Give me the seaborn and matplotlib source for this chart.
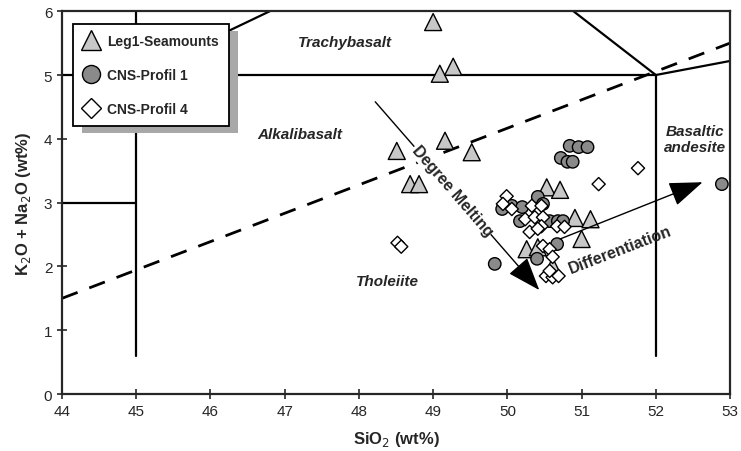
import numpy as np
import pandas as pd
import matplotlib
matplotlib.use('Agg')
import matplotlib.pyplot as plt
from matplotlib.patches import Rectangle
import seaborn as sns

# Leg1-Seamounts (ucgenler)
seamount_sio2 = [49.00, 49.09, 49.27, 48.51, 49.16, 49.52, 48.69, 48.81,
                 50.53, 50.71, 50.91, 51.12, 51.00, 50.26, 50.41, 50.61]
seamount_alk = [5.83, 5.02, 5.13, 3.81, 3.97, 3.79, 3.29, 3.29,
                3.24, 3.20, 2.76, 2.74, 2.43, 2.27, 2.30, 2.00]

# CNS-Profil 1 (gri daireler)
profil1_sio2 = [50.84, 50.96, 51.08, 50.72, 50.81, 50.88, 52.89, 49.83,
                49.93, 50.06, 50.20, 50.41, 50.48, 50.17, 50.57, 50.68,
                50.75, 50.67, 50.40]
profil1_alk = [3.89, 3.87, 3.87, 3.70, 3.64, 3.64, 3.29, 2.04,
               2.90, 2.95, 2.93, 3.09, 2.98, 2.71, 2.71, 2.71,
               2.71, 2.35, 2.12]

# CNS-Profil 4 (beyaz karolar)
profil4_sio2 = [48.52, 48.57, 51.76, 51.23, 49.99, 49.94, 50.06, 50.33,
                50.46, 50.24, 50.37, 50.48, 50.67, 50.77, 50.46, 50.30,
                50.41, 50.48, 50.57, 50.61, 50.52, 50.61, 50.69, 50.57]
profil4_alk = [2.37, 2.31, 3.54, 3.29, 3.10, 2.98, 2.90, 2.95,
               2.95, 2.74, 2.77, 2.77, 2.63, 2.62, 2.63, 2.54,
               2.59, 2.32, 2.27, 2.15, 1.85, 1.83, 1.85, 1.93]

gruplar = ['Leg1-Seamounts', 'CNS-Profil 1', 'CNS-Profil 4']

df = pd.concat([
    pd.DataFrame({'SiO2': seamount_sio2, 'alk': seamount_alk, 'grup': gruplar[0]}),
    pd.DataFrame({'SiO2': profil1_sio2, 'alk': profil1_alk, 'grup': gruplar[1]}),
    pd.DataFrame({'SiO2': profil4_sio2, 'alk': profil4_alk, 'grup': gruplar[2]}),
], ignore_index=True)

sns.set_style('ticks')
plt.rcParams['font.family'] = ['Liberation Sans', 'DejaVu Sans']

fig = plt.figure(figsize=(7.41, 4.52), dpi=100)
ax = fig.add_axes([0.0837, 0.126, 0.9015, 0.847])

# siniflandirma cizgileri
k = dict(color='black', lw=1.6, zorder=1)
ax.plot([45, 45], [0.6, 6], **k)
ax.plot([44, 45], [3, 3], **k)
ax.plot([44, 52], [5, 5], **k)
ax.plot([45, 46.80], [5, 6], **k)
ax.plot([50.89, 52], [6, 5], **k)
ax.plot([52, 53], [5, 5.22], **k)
ax.plot([52, 52], [0.6, 5], **k)
ax.plot([44, 53], [1.5, 5.5], color='black', lw=2.0, ls=(0, (6, 4.5)), zorder=1)

sns.scatterplot(data=df, x='SiO2', y='alk', hue='grup', style='grup',
                hue_order=gruplar, style_order=gruplar,
                palette={gruplar[0]: '#c8c8c8', gruplar[1]: '#8a8a8a', gruplar[2]: 'white'},
                markers={gruplar[0]: '^', gruplar[1]: 'o', gruplar[2]: 'D'},
                size='grup', sizes={gruplar[0]: 150, gruplar[1]: 80, gruplar[2]: 45},
                edgecolor='black', linewidth=1.0, ax=ax, zorder=3)

# oklar
ok = dict(arrowstyle='-|>,head_length=1.5,head_width=0.55', color='black', lw=1.0,
          mutation_scale=14, shrinkA=0, shrinkB=0)
ax.annotate('', xy=(50.43, 1.63), xytext=(48.22, 4.58), arrowprops=ok, zorder=4)
ax.annotate('', xy=(52.63, 3.32), xytext=(50.71, 2.43), arrowprops=ok, zorder=4)

yazi = dict(fontsize=11, fontweight='bold', fontstyle='italic', ha='center', va='center')
ax.text(47.81, 5.52, 'Trachybasalt', **yazi)
ax.text(47.21, 4.07, 'Alkalibasalt', **yazi)
ax.text(48.38, 1.77, 'Tholeiite', **yazi)
ax.text(52.53, 4.0, 'Basaltic\nandesite', linespacing=1.15, **yazi)
ax.text(49.26, 3.19, 'Degree Melting', fontsize=11.5, fontweight='bold',
        rotation=-49, ha='center', va='center', zorder=5,
        bbox=dict(facecolor='white', edgecolor='none', pad=0.5))
ax.text(51.52, 2.27, 'Differentiation', fontsize=11.5, fontweight='bold',
        rotation=21, ha='center', va='center', zorder=5)

ax.set_xlim(44, 53)
ax.set_ylim(0, 6)
ax.set_xticks(range(44, 54))
ax.set_yticks(range(0, 7))
ax.tick_params(direction='inout', length=7, width=1.2, labelsize=11)
for s in ax.spines.values():
    s.set_linewidth(1.6)
ax.set_xlabel('SiO$_2$ (wt%)', fontsize=12, fontweight='bold', labelpad=8)
ax.set_ylabel('K$_2$O + Na$_2$O (wt%)', fontsize=12, fontweight='bold', labelpad=8)

leg = ax.legend(loc='upper left', bbox_to_anchor=(0.016, 0.966), borderaxespad=0,
                frameon=True, fancybox=False, framealpha=1,
                labelspacing=1.45, borderpad=0.7, handlelength=1.3, handletextpad=0.5,
                prop={'weight': 'bold', 'size': 10})
leg.get_frame().set_edgecolor('black')
leg.get_frame().set_linewidth(1.3)
leg.set_zorder(6)
for h, ms in zip(leg.legend_handles, [15, 13, 10]):
    if hasattr(h, 'set_markersize'):
        h.set_markersize(ms)
    else:
        h.set_sizes([ms ** 2])

# legend golgesi
fig.canvas.draw()
bb = leg.get_window_extent().transformed(ax.transAxes.inverted())
dx = 9 / (ax.bbox.width)
dy = 7 / (ax.bbox.height)
ax.add_patch(Rectangle((bb.x0 + dx, bb.y0 - dy), bb.width, bb.height,
                       transform=ax.transAxes, facecolor='#a8a8a8',
                       edgecolor='none', zorder=5.5))

fig.savefig('out.png', dpi=100)
